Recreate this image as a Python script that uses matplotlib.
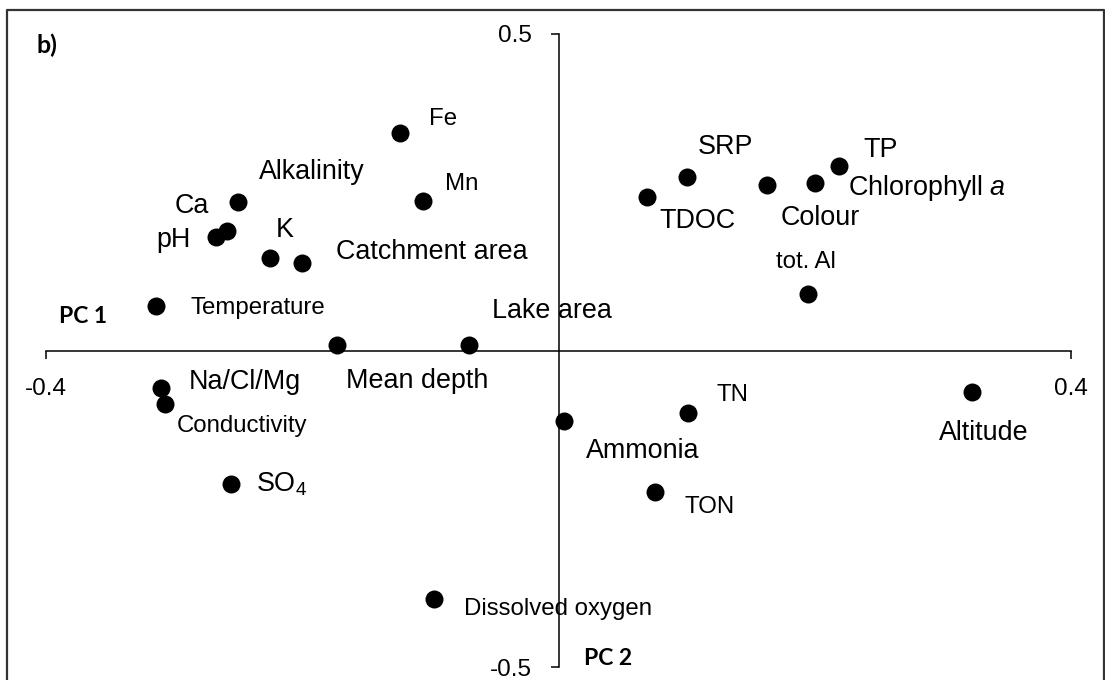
import matplotlib
matplotlib.use("Agg")
import matplotlib.pyplot as plt
from matplotlib.lines import Line2D

plt.rcParams['font.family'] = ['Liberation Sans', 'DejaVu Sans']
plt.rcParams['mathtext.fontset'] = 'custom'
plt.rcParams['mathtext.rm'] = 'Liberation Sans'
plt.rcParams['mathtext.it'] = 'Liberation Sans:italic'

# ---- data (PC1, PC2 loadings) ----
variables = ["Fe", "Mn", "Alkalinity", "Ca", "pH", "K", "Catchment area",
             "Temperature", "Mean depth", "Lake area", "SRP", "TDOC", "Colour",
             "Chlorophyll $\\mathit{a}$", "TP", "tot. Al", "Na/Cl/Mg", "Conductivity",
             "SO$_\\mathregular{4}$", "Dissolved oxygen", "Ammonia", "TN", "TON", "Altitude"]
pc1 = [-0.124, -0.106, -0.250, -0.259, -0.267, -0.225, -0.200,
       -0.314, -0.173, -0.070, 0.100, 0.069, 0.163,
       0.200, 0.219, 0.195, -0.310, -0.307,
       -0.256, -0.097, 0.004, 0.101, 0.075, 0.323]
pc2 = [0.343, 0.236, 0.235, 0.189, 0.180, 0.146, 0.138,
       0.070, 0.008, 0.009, 0.274, 0.243, 0.262,
       0.264, 0.292, 0.089, -0.059, -0.084,
       -0.211, -0.393, -0.112, -0.098, -0.223, -0.065]
x_ticks = [-0.4, 0.4]
y_ticks = [-0.5, 0.5]
x_tick_labels = ["-0.4", "0.4"]
y_tick_labels = ["-0.5", "0.5"]

# label offsets in pixels (dx, dy) and size class
label_offsets = [(29, 8), (22, 11), (21, 23), (-52, 18), (-60, -10), (6, 21), (34, 4),
                 (34, -8), (9, -43), (23, 27), (11, 23), (12, -31), (13, -40),
                 (33, -12), (24, 9), (-32, 26), (27, -1), (12, -28),
                 (26, -7), (30, -16), (22, -37), (29, 12), (30, -21), (-33, -48)]
label_small = [True, True, False, False, False, False, False,
               True, False, False, False, False, False,
               False, False, True, False, True,
               False, True, False, True, True, False]

W, H = 1105, 680
fig = plt.figure(figsize=(W / 100, H / 100), dpi=100)
ax = fig.add_axes([46 / W, 1 - 667 / H, (1071 - 46) / W, (667 - 34) / H])
ax.set_xlim(-0.4, 0.4)
ax.set_ylim(-0.5, 0.5)

ax.scatter(pc1, pc2, s=168, color='black', zorder=3, clip_on=False, linewidths=0)

for name, x, y, (dx, dy), small in zip(variables, pc1, pc2, label_offsets, label_small):
    ax.annotate(name, (x, y), xytext=(dx, dy), textcoords='offset pixels',
                ha='left', va='baseline', fontsize=17.3 if small else 19.4,
                color='black', zorder=4, annotation_clip=False)

for s in ['top', 'right']:
    ax.spines[s].set_visible(False)
ax.spines['left'].set_position(('data', 0))
ax.spines['bottom'].set_position(('data', 0))
for s in ['left', 'bottom']:
    ax.spines[s].set_linewidth(1.1)
    ax.spines[s].set_color('black')
    ax.spines[s].set_zorder(2)

ax.set_xticks(x_ticks)
ax.set_xticklabels(x_tick_labels)
ax.set_yticks(y_ticks)
ax.set_yticklabels(y_tick_labels)
ax.tick_params(axis='x', direction='out', length=6, width=1.1, pad=14, labelsize=17.5)
ax.tick_params(axis='y', direction='out', length=6, width=1.1, pad=13, labelsize=17.5)
ax.set_facecolor('none')

# axis titles and panel label
fig.text(59 / W, 1 - 323 / H, "PC 1", family='Lato', fontweight='bold',
         fontsize=16.5, ha='left', va='baseline')
fig.text(584 / W, 1 - 665 / H, "PC 2", family='Lato', fontweight='bold',
         fontsize=16.5, ha='left', va='baseline')
fig.text(36 / W, 1 - 53 / H, "b)", family='Lato', fontweight='bold',
         fontsize=18, ha='left', va='baseline')

# outer frame (left, top, right)
frame = Line2D([7 / W, 7 / W, 1104 / W, 1104 / W],
               [0, 1 - 10 / H, 1 - 10 / H, 0],
               transform=fig.transFigure, color='#333333', linewidth=1.6)
fig.add_artist(frame)

fig.savefig("out.png", dpi=100)
